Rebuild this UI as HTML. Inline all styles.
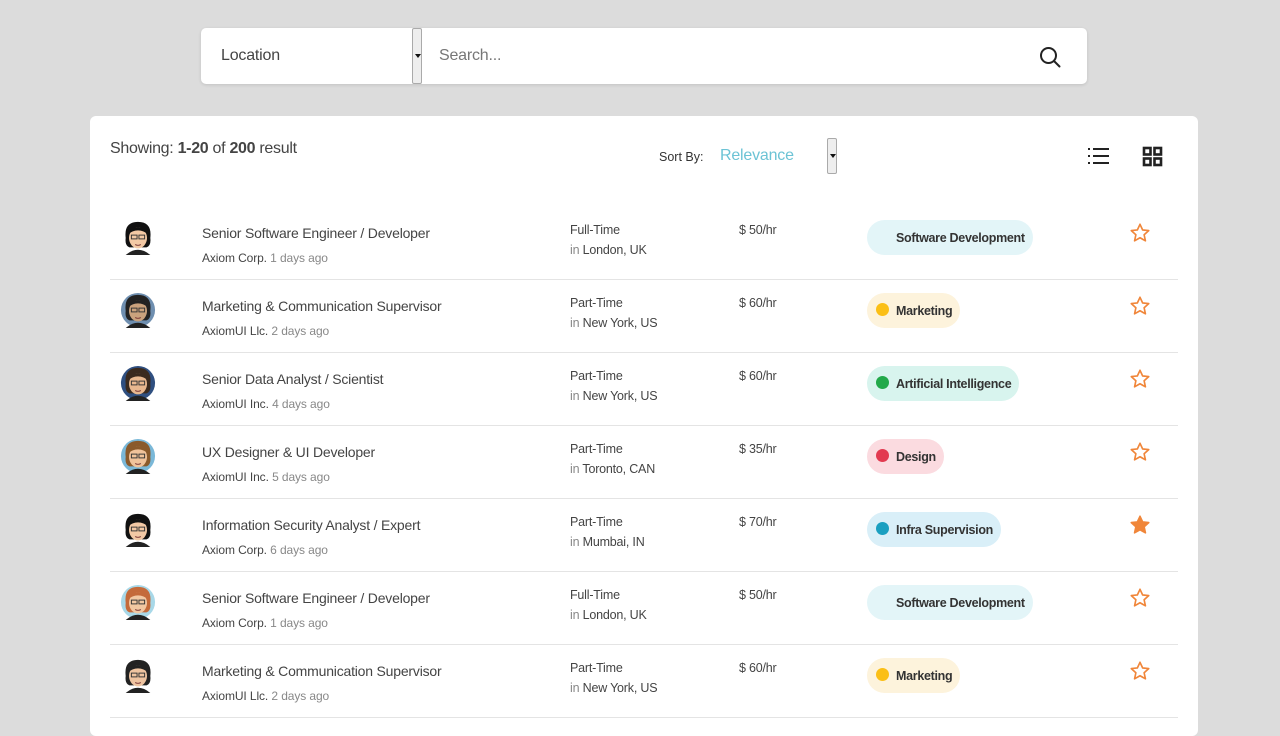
<!DOCTYPE html>
<html><head><meta charset="utf-8">
<style>
*{box-sizing:border-box;margin:0;padding:0}
body{width:1280px;height:720px;overflow:hidden;background:#dcdcdc;font-family:"Liberation Sans",sans-serif;color:#333;position:relative}
.search{position:absolute;left:201px;top:28px;width:886px;height:56px;background:#fff;border-radius:5px;box-shadow:0 1px 3px rgba(0,0,0,.12)}
.loc{position:absolute;left:20px;top:19px;font-size:16px;color:#444;letter-spacing:-0.2px}
.selbtn{position:absolute;width:10px;background:#eee;border:1px solid #aaa;border-radius:2px}
.selbtn:after{content:"";position:absolute;left:2px;top:50%;margin-top:-2px;border:3px solid transparent;border-top:4px solid #111}
.sinput{position:absolute;left:238px;top:19px;font-size:16px;color:#777;letter-spacing:-0.2px}
.card{position:absolute;left:90px;top:116px;width:1108px;height:620px;background:#fff;border-radius:6px}
.show{position:absolute;left:20px;top:24px;font-size:16px;color:#444;letter-spacing:-0.3px}
.sort{position:absolute;left:569px;top:34px;font-size:12.5px;color:#333}
.rel{position:absolute;left:630px;top:31px;font-size:16px;color:#6cc3d5;letter-spacing:-0.2px}
.row{position:absolute;left:20px;width:1068px;height:73px;border-bottom:1px solid #e4e4e4}
.av{position:absolute;left:10px;top:12px}
.title{position:absolute;left:92px;top:18px;font-size:14px;color:#444;letter-spacing:-0.2px}
.comp{position:absolute;left:92px;top:44px;font-size:12px;color:#444;letter-spacing:-0.1px}
.comp span{color:#888}
.type{position:absolute;left:460px;top:16px;font-size:12.5px;color:#444;letter-spacing:-0.2px}
.where{position:absolute;left:460px;top:36px;font-size:12.5px;color:#444;letter-spacing:-0.2px}
.where span{color:#888}
.pay{position:absolute;left:629px;top:16px;font-size:12.5px;color:#444;letter-spacing:-0.2px}
.tag{position:absolute;left:757px;top:13px;height:35px;border-radius:18px;padding:0 8px 0 29px;font-size:12.5px;font-weight:bold;line-height:36px;color:#333;letter-spacing:-0.3px}
.tag i{position:absolute;left:9px;top:10px;width:13px;height:13px;border-radius:50%}
.star{position:absolute;left:1019px;top:15px}
</style></head><body>
<div class="search">
  <div class="loc">Location</div>
  <div class="selbtn" style="left:211px;top:0;height:56px"></div>
  <div class="sinput">Search...</div>
  <svg style="position:absolute;left:838px;top:18px" width="22" height="22" viewBox="0 0 22 22"><circle cx="9.5" cy="9.5" r="7.5" fill="none" stroke="#222" stroke-width="2"/><line x1="15" y1="15" x2="20.5" y2="20.5" stroke="#222" stroke-width="2" stroke-linecap="round"/></svg>
</div>
<div class="card">
  <div class="show">Showing: <b>1-20</b> of <b>200</b> result</div>
  <div class="sort">Sort By:</div>
  <div class="rel">Relevance</div>
  <div class="selbtn" style="left:737px;top:22px;height:36px"></div>
  <svg style="position:absolute;left:998px;top:31px" width="22" height="18"><g fill="#222"><rect x="0" y="1" width="2" height="2"/><rect x="0" y="8" width="2" height="2"/><rect x="0" y="15" width="2" height="2"/><rect x="5" y="1" width="16" height="2"/><rect x="5" y="8" width="16" height="2"/><rect x="5" y="15" width="16" height="2"/></g></svg>
  <svg style="position:absolute;left:1052px;top:30px" width="22" height="22"><g fill="none" stroke="#222" stroke-width="2.6"><rect x="2" y="2" width="6.5" height="6.5"/><rect x="12.5" y="2" width="6.5" height="6.5"/><rect x="2" y="12.5" width="6.5" height="6.5"/><rect x="12.5" y="12.5" width="6.5" height="6.5"/></g></svg>
  <div id="rows"></div>
</div>
<script>
const titles=["Senior Software Engineer / Developer","Marketing & Communication Supervisor","Senior Data Analyst / Scientist","UX Designer & UI Developer","Information Security Analyst / Expert","Senior Software Engineer / Developer","Marketing & Communication Supervisor"];
const companies=["Axiom Corp.","AxiomUI Llc.","AxiomUI Inc.","AxiomUI Inc.","Axiom Corp.","Axiom Corp.","AxiomUI Llc."];
const ages=["1 days ago","2 days ago","4 days ago","5 days ago","6 days ago","1 days ago","2 days ago"];
const types=["Full-Time","Part-Time","Part-Time","Part-Time","Part-Time","Full-Time","Part-Time"];
const places=["London, UK","New York, US","New York, US","Toronto, CAN","Mumbai, IN","London, UK","New York, US"];
const pays=["$ 50/hr","$ 60/hr","$ 60/hr","$ 35/hr","$ 70/hr","$ 50/hr","$ 60/hr"];
const tags=["Software Development","Marketing","Artificial Intelligence","Design","Infra Supervision","Software Development","Marketing"];
const tagBg=["#e3f5f8","#fdf3dc","#d8f4ee","#fbdbe0","#d9eff8","#e3f5f8","#fdf3dc"];
const tagDot=["","#fbbf16","#22a94a","#e23a50","#1a9fc0","","#fbbf16"];
const starred=[false,false,false,false,true,false,false];
const hair=["#111","#222","#3a2a1e","#8a5a2b","#111","#c46a3a","#222"];
const skin=["#f3c9a5","#caa27d","#e8b88f","#f0c39b","#f3c9a5","#f2c8a2","#efc4a0"];
const bgc=["#fff","#6f8fb0","#2f4f80","#7ab8d8","#fff","#a8d8e8","#fff"];
const wrap=document.getElementById('rows');
titles.forEach((t,i)=>{
  const r=document.createElement('div');
  r.className='row';r.style.top=(91+i*73)+'px';
  
  
  const star=starred[i]?'#f0863a':'none';
  r.innerHTML=
  `<svg class="av" width="36" height="36" viewBox="0 0 38 38"><circle cx="19" cy="19" r="18" fill="${bgc[i]}"/><path d="M6 38 Q19 27 32 38Z" fill="#222"/><path d="M6 20 Q4 3 19 3 Q34 3 32 20 Q33 28 28 30 L10 30 Q5 28 6 20Z" fill="${hair[i]}"/><ellipse cx="19" cy="20" rx="9.5" ry="11" fill="${skin[i]}"/><path d="M9 16 Q12 9 19 9 Q26 9 29 16 Q25 12 19 12 Q13 12 9 16Z" fill="${hair[i]}"/><rect x="12" y="17" width="6" height="4" fill="none" stroke="#333" stroke-width="1"/><rect x="20" y="17" width="6" height="4" fill="none" stroke="#333" stroke-width="1"/><path d="M16 27 Q19 28.5 22 27" stroke="#733" fill="none"/></svg>`+
  `<div class="title">${t}</div>`+
  `<div class="comp">${companies[i]} <span>${ages[i]}</span></div>`+
  `<div class="type">${types[i]}</div>`+
  `<div class="where"><span>in</span> ${places[i]}</div>`+
  `<div class="pay">${pays[i]}</div>`+
  `<div class="tag" style="background:${tagBg[i]}">${tagDot[i]?`<i style="background:${tagDot[i]}"></i>`:''}${tags[i]}</div>`+
  `<svg class="star" width="22" height="22" viewBox="0 0 24 24"><path d="M12 2.5l2.9 6.2 6.6.7-5 4.5 1.4 6.6L12 17.2 6.1 20.5l1.4-6.6-5-4.5 6.6-.7z" fill="${star}" stroke="#f0863a" stroke-width="1.8" stroke-linejoin="round"/></svg>`;
  wrap.appendChild(r);
});
</script>
</body></html>
